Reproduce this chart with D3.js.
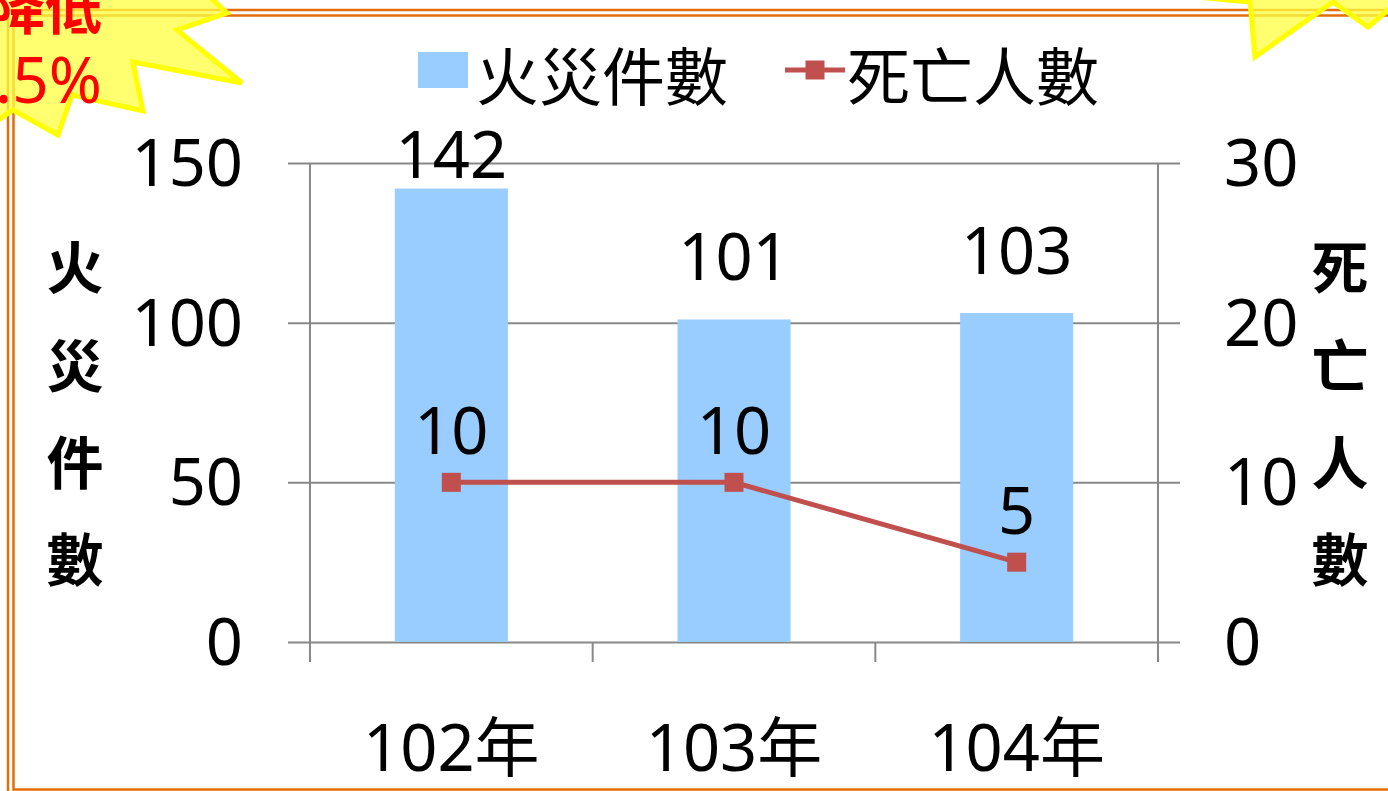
<!doctype html>
<html>

<head>
    <meta charset="utf-8">
    <title>火災件數 / 死亡人數</title>
    <script type="text/javascript" src="https://cdn.jsdelivr.net/npm/d3@7"></script>
    <style type="text/css">
        html,
        body {
            margin: 0;
            padding: 0;
            background: #fff;
        }

        #chart svg {
            display: block;
            font-family: "Noto Sans", "Noto Sans CJK TC", sans-serif;
        }
    </style>
</head>

<body>
    <div id="chart"></div>

    <script type="text/javascript">
        // data
        var years = ["102年", "103年", "104年"]
        var fires = [142, 101, 103]
        var deaths = [10, 10, 5]
        var leftTicks = [0, 50, 100, 150]
        var rightTicks = [0, 10, 20, 30]
        var fireName = "火災件數"
        var deathName = "死亡人數"

        var W = 1388, H = 791
        var blue = "#99ccff", red = "#c0504d", grid = "#888888", orange = "#e46c0a"
        var CJK = "'Noto Sans CJK TC', 'Noto Sans', sans-serif"
        var FS = 65

        var svg = d3.select("#chart")
            .append("svg")
            .attr("width", W)
            .attr("height", H)

        // plot area
        var x = d3.scaleBand().domain(years).range([310, 1158])
        var yL = d3.scaleLinear().domain([0, 150]).range([642, 163])
        var yR = d3.scaleLinear().domain([0, 30]).range([642, 163])
        var bw = x.bandwidth() * 0.4
        var cx = function (d) { return x(d) + x.bandwidth() / 2 }

        // gridlines (with outside ticks on both value axes)
        svg.append("g")
            .attr("transform", "translate(288,0)")
            .call(d3.axisRight(yL).tickValues(leftTicks).tickSize(892).tickFormat(""))
            .call(function (g) { g.select(".domain").remove() })
            .selectAll("line")
            .attr("stroke", grid)
            .attr("stroke-width", 2)

        // vertical axis lines
        svg.append("g")
            .selectAll("line")
            .data(x.range())
            .enter()
            .append("line")
            .attr("x1", function (d) { return d })
            .attr("x2", function (d) { return d })
            .attr("y1", yL(150))
            .attr("y2", yL(0))
            .attr("stroke", grid)
            .attr("stroke-width", 2)

        // category tick marks between categories
        var cats = years.map(function (d) { return x(d) }).concat([x.range()[1]])
        svg.append("g")
            .selectAll("line")
            .data(cats)
            .enter()
            .append("line")
            .attr("x1", function (d) { return d })
            .attr("x2", function (d) { return d })
            .attr("y1", yL(0))
            .attr("y2", yL(0) + 20)
            .attr("stroke", grid)
            .attr("stroke-width", 2)

        // bars
        svg.append("g")
            .selectAll("rect")
            .data(years)
            .enter()
            .append("rect")
            .attr("x", function (d) { return cx(d) - bw / 2 })
            .attr("y", function (d, i) { return yL(fires[i]) })
            .attr("width", bw)
            .attr("height", function (d, i) { return yL(0) - yL(fires[i]) })
            .attr("fill", blue)

        // bar labels
        svg.append("g")
            .selectAll("text")
            .data(years)
            .enter()
            .append("text")
            .attr("x", cx)
            .attr("y", function (d, i) { return Math.max(yL(fires[i]) - 39, yL(150) + 15) })
            .attr("text-anchor", "middle")
            .attr("font-size", FS)
            .text(function (d, i) { return fires[i] })

        // deaths line
        var line = d3.line()
            .x(function (d, i) { return cx(years[i]) })
            .y(function (d) { return yR(d) })

        svg.append("path")
            .datum(deaths)
            .attr("d", line)
            .attr("fill", "none")
            .attr("stroke", red)
            .attr("stroke-width", 5)

        svg.append("g")
            .selectAll("rect")
            .data(deaths)
            .enter()
            .append("rect")
            .attr("x", function (d, i) { return cx(years[i]) - 9.5 })
            .attr("y", function (d) { return yR(d) - 9.5 })
            .attr("width", 19)
            .attr("height", 19)
            .attr("fill", red)

        svg.append("g")
            .selectAll("text")
            .data(deaths)
            .enter()
            .append("text")
            .attr("x", function (d, i) { return cx(years[i]) })
            .attr("y", function (d) { return yR(d) - 28 })
            .attr("text-anchor", "middle")
            .attr("font-size", FS)
            .text(function (d) { return d })

        // tick labels
        svg.append("g")
            .selectAll("text")
            .data(leftTicks)
            .enter()
            .append("text")
            .attr("x", 243)
            .attr("y", function (d) { return yL(d) + 23 })
            .attr("text-anchor", "end")
            .attr("font-size", FS)
            .text(function (d) { return d })

        svg.append("g")
            .selectAll("text")
            .data(rightTicks)
            .enter()
            .append("text")
            .attr("x", 1224)
            .attr("y", function (d) { return yR(d) + 23 })
            .attr("text-anchor", "start")
            .attr("font-size", FS)
            .text(function (d) { return d })

        svg.append("g")
            .selectAll("text")
            .data(years)
            .enter()
            .append("text")
            .attr("x", cx)
            .attr("y", 771)
            .attr("text-anchor", "middle")
            .attr("font-size", FS)
            .text(function (d) { return d })

        // axis titles, stacked vertically
        var titleY = [268, 366, 463, 560]
        function vtitle(txt, xc) {
            svg.append("g")
                .selectAll("text")
                .data(txt.split(""))
                .enter()
                .append("text")
                .attr("x", xc)
                .attr("y", function (d, i) { return titleY[i] + 21 })
                .attr("text-anchor", "middle")
                .attr("font-size", 57)
                .attr("font-weight", "bold")
                .style("font-family", CJK)
                .text(function (d) { return d })
        }
        vtitle(fireName, 75)
        vtitle(deathName, 1340)

        // legend
        var legend = svg.append("g")
        legend.append("rect")
            .attr("x", 418)
            .attr("y", 52)
            .attr("width", 50)
            .attr("height", 36)
            .attr("fill", blue)
        legend.append("text")
            .attr("x", 476)
            .attr("y", 100)
            .attr("font-size", 63)
            .style("font-family", CJK)
            .text(fireName)
        legend.append("line")
            .attr("x1", 785)
            .attr("x2", 845)
            .attr("y1", 70)
            .attr("y2", 70)
            .attr("stroke", red)
            .attr("stroke-width", 5)
        legend.append("rect")
            .attr("x", 805.5)
            .attr("y", 60.5)
            .attr("width", 19)
            .attr("height", 19)
            .attr("fill", red)
        legend.append("text")
            .attr("x", 847)
            .attr("y", 100)
            .attr("font-size", 63)
            .style("font-family", CJK)
            .text(deathName)

        // double orange frame
        svg.append("rect")
            .attr("x", 8).attr("y", 10)
            .attr("width", 1420).attr("height", 820)
            .attr("fill", "none").attr("stroke", orange).attr("stroke-width", 2.5)
        svg.append("rect")
            .attr("x", 13.5).attr("y", 15.5)
            .attr("width", 1420).attr("height", 774)
            .attr("fill", "none").attr("stroke", orange).attr("stroke-width", 2.5)

        // callout stars, partly off the page
        var starL = [[200, -12], [227, 13], [177, 30], [242, 83], [133, 62], [143, 111],
            [72, 95], [58, 135], [13, 110], [-30, 140], [-30, -12]]
        var starR = [[1120, -10], [1250, 2], [1255, 57], [1333, 2], [1368, 27], [1400, 0], [1400, -10]]
        svg.selectAll("polygon.star")
            .data([starL, starR])
            .enter()
            .append("polygon")
            .attr("class", "star")
            .attr("points", function (d) { return d.join(" ") })
            .attr("fill", "#ffff40")
            .attr("fill-opacity", 0.75)
            .attr("stroke", "#ffff00")
            .attr("stroke-width", 5)
            .attr("stroke-linejoin", "miter")

        svg.append("text")
            .attr("x", 102)
            .attr("y", 29)
            .attr("text-anchor", "end")
            .attr("font-size", 57)
            .attr("font-weight", "bold")
            .attr("fill", "#ff0000")
            .style("font-family", CJK)
            .text("降低")
        svg.append("text")
            .attr("x", 102)
            .attr("y", 103)
            .attr("text-anchor", "end")
            .attr("font-size", 64)
            .attr("fill", "#ff0000")
            .text("29.5%")
    </script>
</body>

</html>
